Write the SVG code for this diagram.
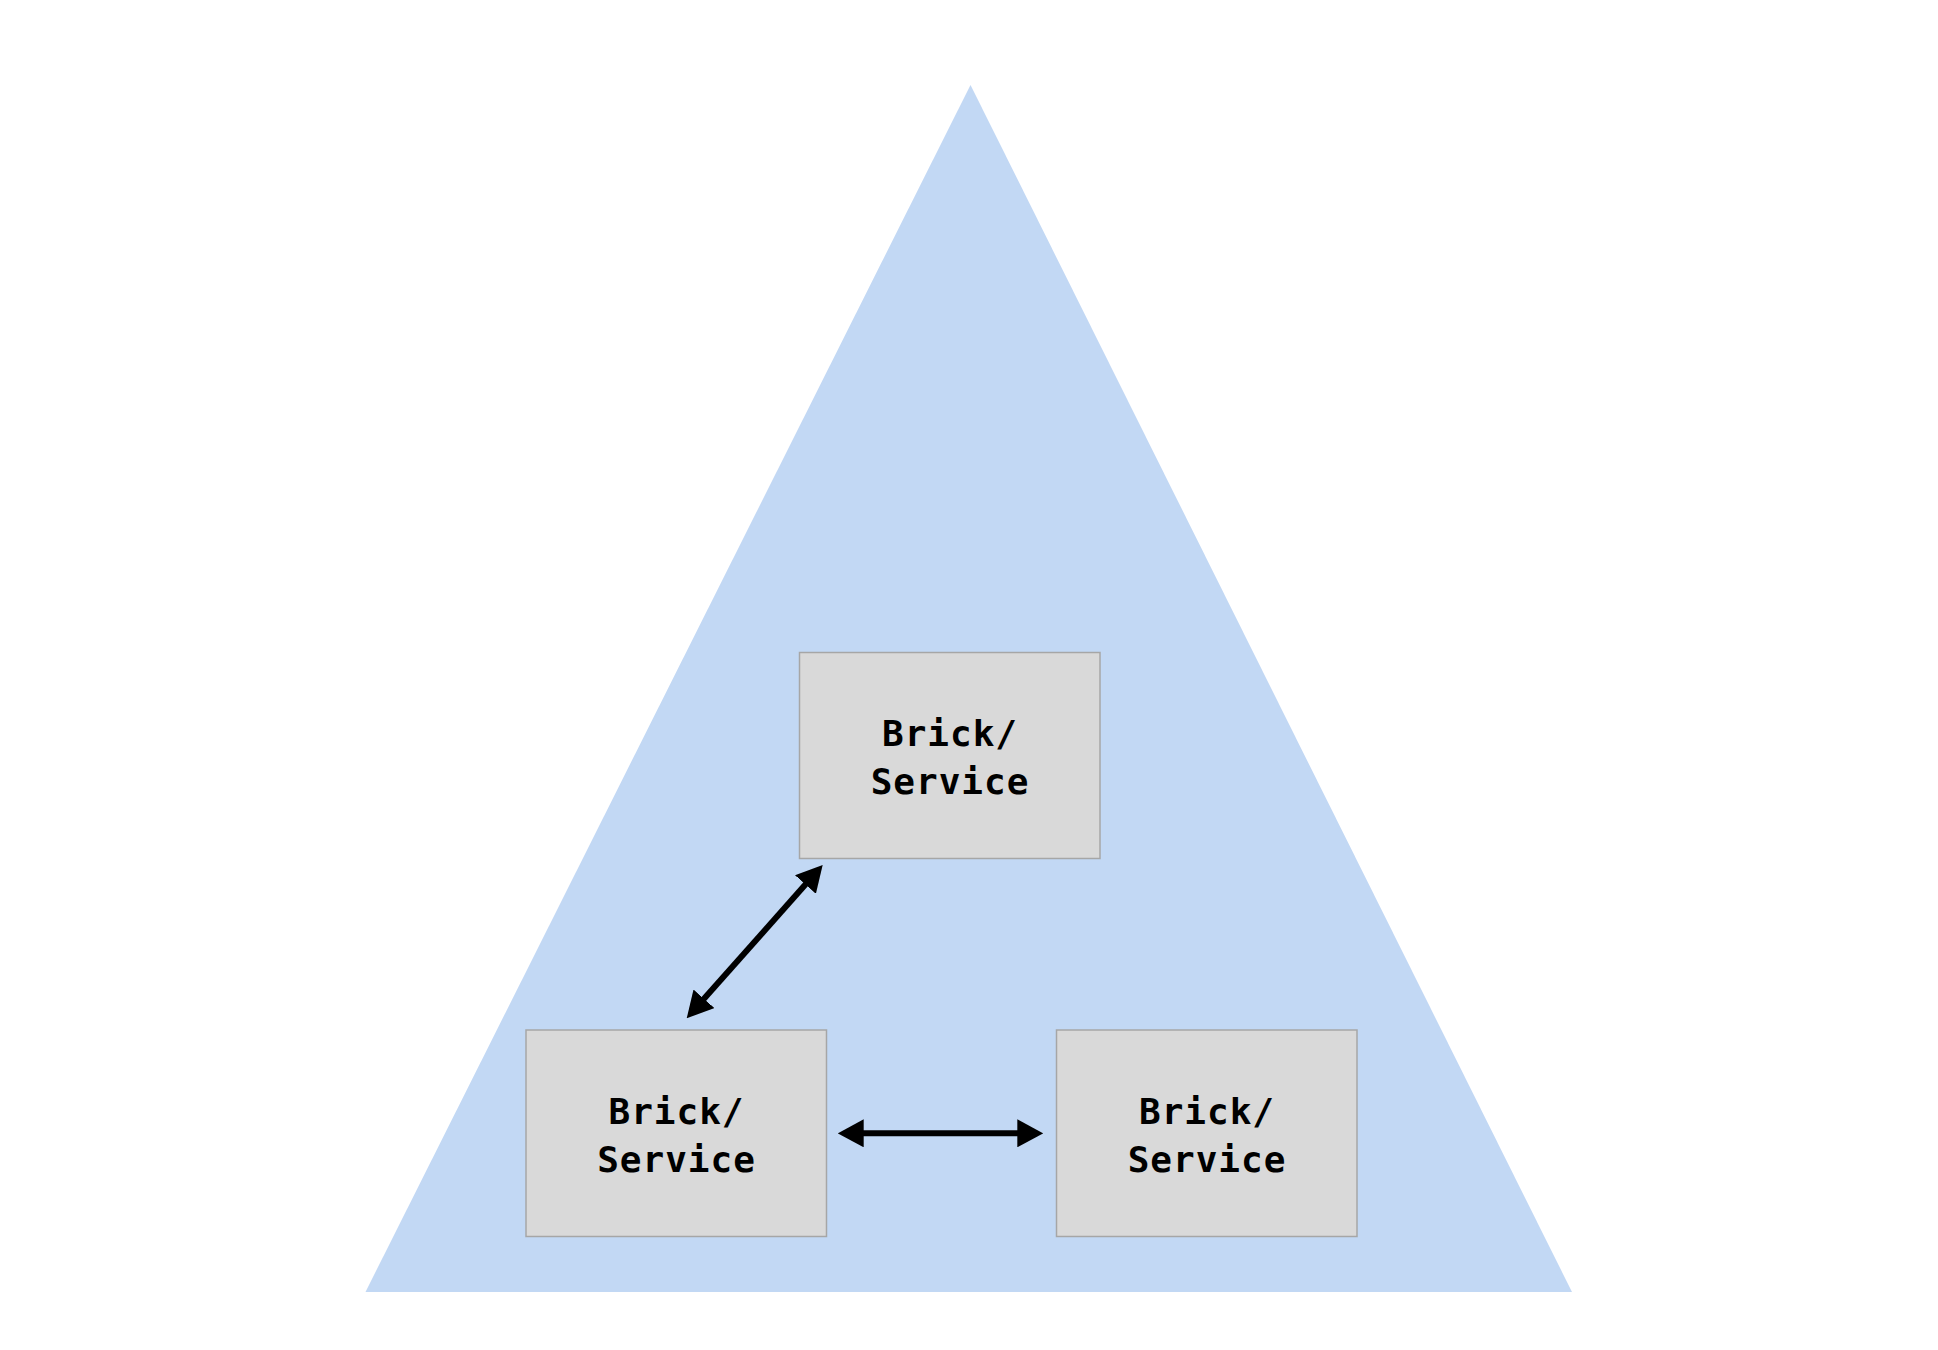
<svg xmlns="http://www.w3.org/2000/svg" width="1938" height="1350" viewBox="0 0 1938 1350">
  <style>
    .box { fill: #d9d9d9; stroke: #a6a6a6; stroke-width: 1.5; }
    .lbl { font-family: "DejaVu Sans Mono", "Liberation Mono", monospace; font-weight: bold; font-size: 36px; fill: #000; text-anchor: middle; letter-spacing: 1px; }
    .conn { stroke: #000; stroke-width: 6; fill: none; marker-start: url(#arrow); marker-end: url(#arrow); }
  </style>
  <defs>
    <marker id="arrow" viewBox="0 0 26 28" refX="6" refY="14" markerWidth="26" markerHeight="28" markerUnits="userSpaceOnUse" orient="auto-start-reverse">
      <path d="M0,0 L26,14 L0,28 Z" fill="#000"/>
    </marker>
  </defs>
  <rect width="1938" height="1350" fill="#ffffff"/>
  <g id="pyramid">
    <polygon points="970.5,85 1572,1292 365.5,1292" fill="#c2d8f4"/>
  </g>
  <g id="node-top">
    <rect class="box" x="799.5" y="652.5" width="300.5" height="206"/>
    <text class="lbl" x="950" y="746">Brick/</text>
    <text class="lbl" x="950" y="794">Service</text>
  </g>
  <g id="node-left">
    <rect class="box" x="526" y="1030" width="300.5" height="206.5"/>
    <text class="lbl" x="676.5" y="1124">Brick/</text>
    <text class="lbl" x="676.5" y="1172">Service</text>
  </g>
  <g id="node-right">
    <rect class="box" x="1056.5" y="1030" width="300.5" height="206.5"/>
    <text class="lbl" x="1207" y="1124">Brick/</text>
    <text class="lbl" x="1207" y="1172">Service</text>
  </g>
  <g id="connectors">
    <line class="conn" x1="700" y1="1003.3" x2="809.4" y2="880"/>
    <line class="conn" x1="857.7" y1="1133.3" x2="1023.3" y2="1133.3"/>
  </g>
</svg>
